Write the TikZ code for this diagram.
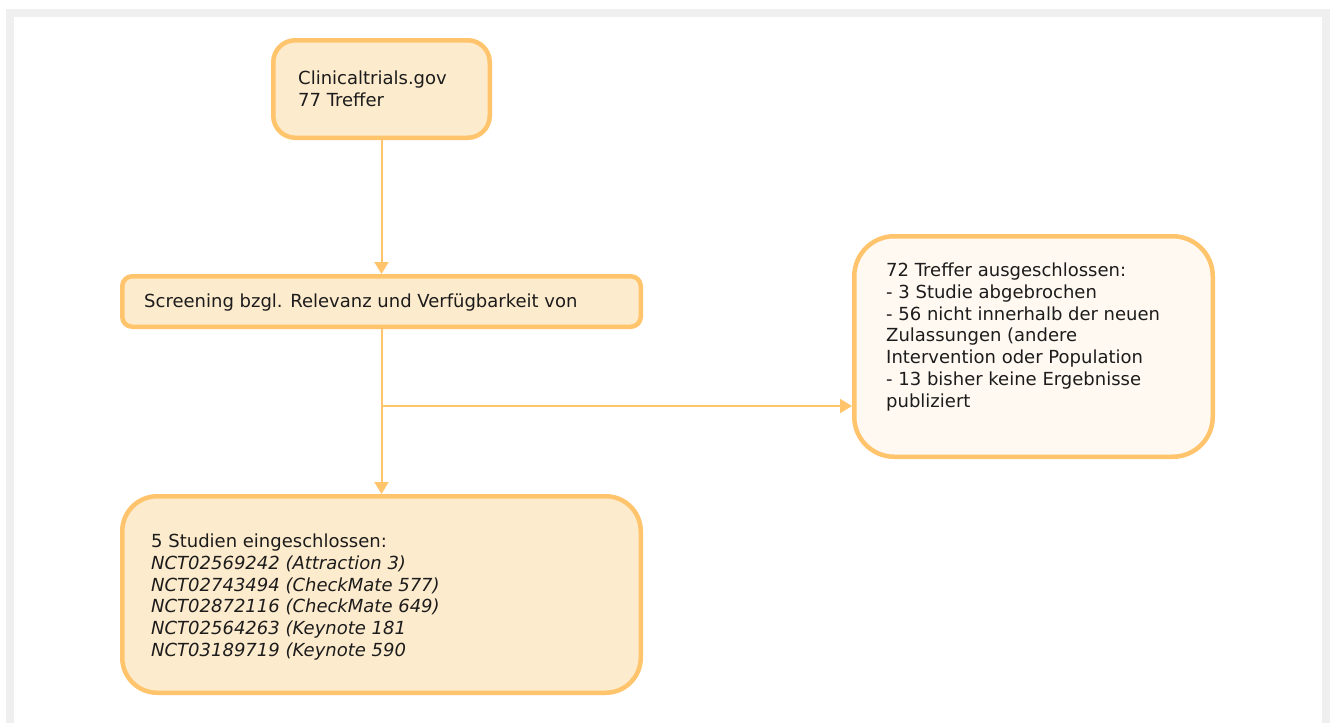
\documentclass[tikz,border=0pt]{standalone}
\usepackage{fontspec}
\setmainfont{DejaVu Sans}
\usetikzlibrary{arrows.meta}
\definecolor{frameg}{HTML}{EFEFEF}
\definecolor{bord}{HTML}{FFC46C}
\definecolor{fillA}{HTML}{FDEBCD}
\definecolor{fillB}{HTML}{FFF9F2}
\definecolor{txtc}{HTML}{1C1C1C}
\tikzset{
  x=1pt,y=1pt,
  boxA/.style={draw=bord,line width=4.5pt,fill=fillA,inner sep=0pt},
  boxB/.style={draw=bord,line width=4.5pt,fill=fillB,inner sep=0pt},
  txt/.style={inner sep=0pt,align=left,text=txtc,font=\fontsize{18}{21.7}\selectfont,anchor=north west},
  conn/.style={draw=bord,line width=2pt,-{Triangle[length=12pt,width=14pt]}},
  plain/.style={draw=bord,line width=2pt}
}
\begin{document}
\begin{tikzpicture}
\useasboundingbox (0,0) rectangle (1335,-723);
\fill[frameg] (6,-9) rectangle (1329.5,-723);
\fill[white] (14,-16.5) rectangle (1322,-723);
% boxes
\node[boxA,rounded corners=22pt,minimum width=216.5pt,minimum height=97.5pt] (top) at (381.5,-89) {};
\node[boxA,rounded corners=10pt,minimum width=518.5pt,minimum height=50.5pt] (screen) at (381.5,-301.5) {};
\node[boxB,rounded corners=40pt,minimum width=358.5pt,minimum height=220.5pt] (excl) at (1033.5,-346.5) {};
\node[boxA,rounded corners=35pt,minimum width=518.5pt,minimum height=196.5pt] (incl) at (381.5,-594.5) {};
% texts
\node[txt] (toptxt) at (298,-71) {Clinicaltrials.gov\\77 Treffer};
\node[txt] (screentxt) at (144,-294) {Screening bzgl. Relevanz und Verfügbarkeit von};
\node[txt] (excltxt) at (886,-263) {72 Treffer ausgeschlossen:\\- 3 Studie abgebrochen\\- 56 nicht innerhalb der neuen\\Zulassungen (andere\\Intervention oder Population\\- 13 bisher keine Ergebnisse\\publiziert};
\node[txt] (incltxt) at (151,-534) {5 Studien eingeschlossen:\\\itshape NCT02569242 (Attraction 3)\\\itshape NCT02743494 (CheckMate 577)\\\itshape NCT02872116 (CheckMate 649)\\\itshape NCT02564263 (Keynote 181\\\itshape NCT03189719 (Keynote 590};
% connectors
\coordinate (branch) at (381.5,-406);
\draw[conn] (top.south) -- (screen.north);
\draw[conn] (screen.south) -- (incl.north);
\draw[conn] (branch) -- (branch -| excl.west);
\end{tikzpicture}
\end{document}
